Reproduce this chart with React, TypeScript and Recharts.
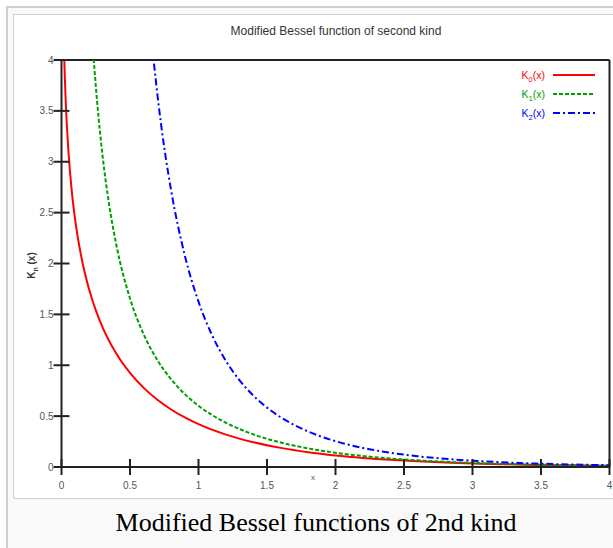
import { LineChart, Line, XAxis, YAxis, Legend, ReferenceLine } from 'recharts';

// Modified Bessel functions of the second kind, K0, K1, K2
const K0_X = [0.01, 0.02, 0.03, 0.04, 0.05, 0.075, 0.1, 0.15, 0.2, 0.25, 0.3, 0.4, 0.5, 0.6, 0.7, 0.8, 0.9, 1.0, 1.2, 1.4, 1.6, 1.8, 2.0, 2.2, 2.4, 2.6, 2.8, 3.0, 3.2, 3.4, 3.6, 3.8, 4.0];
const K0_Y = [4.7212, 4.0285, 3.6235, 3.3365, 3.1142, 2.7084, 2.4271, 2.03, 1.7527, 1.5415, 1.3725, 1.1145, 0.9244, 0.7775, 0.6605, 0.5653, 0.4867, 0.421, 0.3185, 0.2437, 0.188, 0.1459, 0.1139, 0.0893, 0.0702, 0.0554, 0.0438, 0.0347, 0.0276, 0.022, 0.0175, 0.014, 0.0112];

const K1_X = [0.2, 0.22, 0.24, 0.26, 0.3, 0.35, 0.4, 0.5, 0.6, 0.7, 0.8, 0.9, 1.0, 1.2, 1.4, 1.6, 1.8, 2.0, 2.2, 2.4, 2.6, 2.8, 3.0, 3.2, 3.4, 3.6, 3.8, 4.0];
const K1_Y = [4.776, 4.3112, 3.9216, 3.591, 3.056, 2.56, 2.1844, 1.6564, 1.3028, 1.0503, 0.8618, 0.7165, 0.6019, 0.4346, 0.3208, 0.2406, 0.1826, 0.1399, 0.1079, 0.0837, 0.0653, 0.0511, 0.0402, 0.0316, 0.025, 0.0198, 0.0157, 0.0125];

const K2_X = [0.55, 0.6, 0.65, 0.7, 0.75, 0.8, 0.9, 1.0, 1.1, 1.2, 1.3, 1.4, 1.5, 1.6, 1.8, 2.0, 2.2, 2.4, 2.6, 2.8, 3.0, 3.2, 3.4, 3.6, 3.8, 4.0];
const K2_Y = [6.17, 5.1202, 4.31, 3.661, 3.14, 2.72, 2.079, 1.6248, 1.2925, 1.0428, 0.8513, 0.702, 0.5836, 0.4888, 0.3488, 0.2538, 0.1874, 0.14, 0.1056, 0.0803, 0.0615, 0.0474, 0.0367, 0.0285, 0.0223, 0.0174];

const TICKS = [0, 0.5, 1, 1.5, 2, 2.5, 3, 3.5, 4];

const TITLE = 'Modified Bessel function of second kind';
const CAPTION = 'Modified Bessel functions of 2nd kind';

const SERIES = [
  { name: 'K0(x)', sub: '0', color: '#ff0000', dash: undefined, xs: K0_X, ys: K0_Y },
  { name: 'K1(x)', sub: '1', color: '#00a000', dash: '4 2', xs: K1_X, ys: K1_Y },
  { name: 'K2(x)', sub: '2', color: '#0000ff', dash: '7 3 2 3', xs: K2_X, ys: K2_Y },
];

const FONT = '"Liberation Sans", Arial, sans-serif';
const AXIS = '#222';
const LABEL = '#555';

const toPoints = (xs: number[], ys: number[]) => xs.map((x, i) => ({ x, y: ys[i] }));

function YTick({ x, y, payload }: any) {
  return (
    <g>
      <line x1={x - 8} x2={x + 8} y1={y} y2={y} stroke={AXIS} strokeWidth={2} />
      <text x={x - 8} y={y + 3.5} textAnchor="end" fontSize={10} fill={LABEL} fontFamily={FONT}>
        {payload.value}
      </text>
    </g>
  );
}

function XTick({ x, y, payload }: any) {
  return (
    <g>
      <line x1={x} x2={x} y1={y - 8} y2={y + 8} stroke={AXIS} strokeWidth={2} />
      <text x={x} y={y + 22} textAnchor="middle" fontSize={10} fill={LABEL} fontFamily={FONT}>
        {payload.value}
      </text>
    </g>
  );
}

function LegendBox() {
  return (
    <svg width={110} height={60}>
      {SERIES.map((s, i) => {
        const y = 9 + i * 19;
        return (
          <g key={s.name}>
            <text x={55} y={y + 3.5} textAnchor="end" fontSize={10.5} fill={s.color} fontFamily={FONT}>
              K<tspan fontSize={7.5} dy={3}>{s.sub}</tspan>
              <tspan dy={-3}>(x)</tspan>
            </text>
            <line x1={63} x2={105} y1={y} y2={y} stroke={s.color} strokeWidth={2} strokeDasharray={s.dash} />
          </g>
        );
      })}
    </svg>
  );
}

export default function App() {
  return (
    <div style={{ position: 'fixed', left: 0, top: 0, width: 613, height: 548, overflow: 'hidden', background: '#fff' }}>
      {/* thumbnail frame */}
      <div style={{ position: 'absolute', left: 6, top: 6, width: 700, height: 600, border: '2px solid #d0d0d0', background: '#f9f9f9' }} />
      <div style={{ position: 'absolute', left: 13, top: 14, width: 680, height: 483, border: '1px solid #cfcfcf', background: '#fff' }} />
      <div style={{ position: 'absolute', left: 0, top: 24, width: 672, textAlign: 'center', fontFamily: FONT, fontSize: 12, color: '#333' }}>
        {TITLE}
      </div>
      <div style={{ position: 'absolute', left: 0, top: 508, width: 632, textAlign: 'center', fontFamily: '"Liberation Serif", "Times New Roman", serif', fontSize: 26, color: '#000' }}>
        {CAPTION}
      </div>
      <LineChart
        width={660}
        height={548}
        margin={{ top: 60, left: 60.5, right: 50.5, bottom: 80 }}
        style={{ position: 'absolute', left: 0, top: 0 }}
      >
        <XAxis
          type="number"
          dataKey="x"
          domain={[0, 4]}
          ticks={TICKS}
          allowDataOverflow
          height={1}
          tickSize={0}
          tickMargin={0}
          tickLine={false}
          axisLine={{ stroke: AXIS, strokeWidth: 2 }}
          tick={<XTick />}
          label={{
            content: ({ viewBox }: any) => (
              <text x={viewBox.x + viewBox.width * 0.459} y={viewBox.y + 13} textAnchor="middle" fontSize={8} fill={LABEL} fontFamily={FONT}>
                x
              </text>
            ),
          }}
        />
        <YAxis
          type="number"
          dataKey="y"
          domain={[0, 4]}
          ticks={TICKS}
          allowDataOverflow
          width={1}
          tickSize={0}
          tickMargin={0}
          tickLine={false}
          axisLine={{ stroke: AXIS, strokeWidth: 2 }}
          tick={<YTick />}
          label={{
            content: ({ viewBox }: any) => {
              const cx = viewBox.x + viewBox.width - 27;
              const cy = viewBox.y + viewBox.height / 2 + 2;
              return (
                <text x={cx} y={cy} transform={`rotate(-90 ${cx} ${cy})`} textAnchor="middle" fontSize={10} fontWeight="bold" fill="#333" fontFamily={FONT}>
                  K<tspan fontSize={7} dy={3}>n</tspan>
                  <tspan dy={-3}> (x)</tspan>
                </text>
              );
            },
          }}
        />
        <ReferenceLine y={4} stroke={AXIS} strokeWidth={2} />
        <ReferenceLine x={4} stroke={AXIS} strokeWidth={2} />
        {SERIES.map((s) => (
          <Line
            key={s.name}
            name={s.name}
            data={toPoints(s.xs, s.ys)}
            dataKey="y"
            type="monotone"
            stroke={s.color}
            strokeWidth={2}
            strokeDasharray={s.dash}
            dot={false}
            activeDot={false}
            isAnimationActive={false}
          />
        ))}
        <Legend
          layout="vertical"
          align="center"
          verticalAlign="middle"
          content={<LegendBox />}
          wrapperStyle={{ position: 'absolute', left: 490, top: 66, width: 110, height: 60 }}
        />
      </LineChart>
    </div>
  );
}
